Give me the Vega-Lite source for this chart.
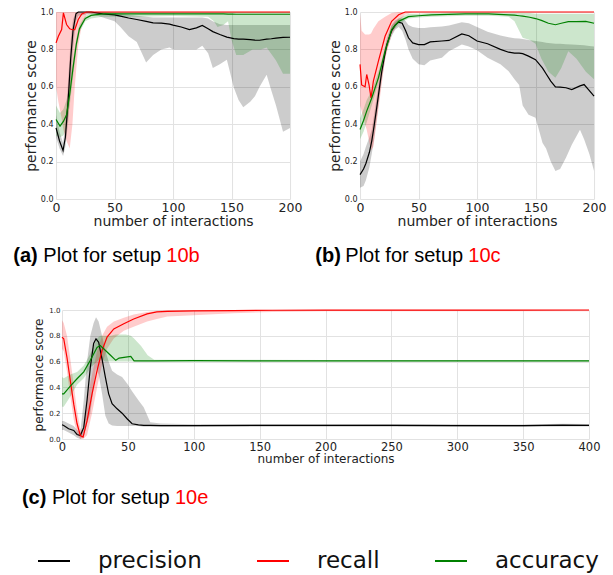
{
"$schema": "https://vega.github.io/schema/vega-lite/v6.json",
"padding": {"left": 13, "top": 8, "right": 4, "bottom": 5},
"config": {
  "view": {"stroke": null},
  "font": "DejaVu Sans",
  "axis": {"domain": false, "ticks": false, "gridColor": "#e2e2e2", "gridWidth": 1, "labelColor": "#222", "titleColor": "#222", "titleFontWeight": "normal", "labelFont": "DejaVu Sans", "titleFont": "DejaVu Sans"},
  "title": {"font": "Liberation Sans", "fontSize": 20, "fontWeight": "normal", "color": "black", "orient": "bottom", "anchor": "start", "frame": "bounds"},
  "legend": {"orient": "none", "legendX": -19, "legendY": 532, "direction": "horizontal", "symbolType": "stroke", "symbolSize": 1024, "symbolStrokeWidth": 2, "labelFontSize": 23, "labelFont": "DejaVu Sans", "labelColor": "#111", "labelOffset": 27, "columnPadding": 51, "labelLimit": 300, "padding": 0}
},
"datasets": {
"d": [
{"p":"a","m":"precision","x":0,"y":0.38,"lo":0.33,"hi":0.45},
{"p":"a","m":"precision","x":3,"y":0.31,"lo":0.27,"hi":0.36},
{"p":"a","m":"precision","x":6,"y":0.26,"lo":0.23,"hi":0.30},
{"p":"a","m":"precision","x":8,"y":0.33,"lo":0.28,"hi":0.40},
{"p":"a","m":"precision","x":10.5,"y":0.54,"lo":0.42,"hi":0.65},
{"p":"a","m":"precision","x":12.5,"y":0.75,"lo":0.62,"hi":0.85},
{"p":"a","m":"precision","x":14.5,"y":0.9,"lo":0.8,"hi":0.96},
{"p":"a","m":"precision","x":17,"y":0.99,"lo":0.95,"hi":1.0},
{"p":"a","m":"precision","x":19,"y":1.0,"lo":0.98,"hi":1.0},
{"p":"a","m":"precision","x":30,"y":1.0,"lo":0.99,"hi":1.0},
{"p":"a","m":"precision","x":40,"y":0.99,"lo":0.97,"hi":1.0},
{"p":"a","m":"precision","x":50,"y":0.985,"lo":0.95,"hi":0.995},
{"p":"a","m":"precision","x":55,"y":0.978,"lo":0.92,"hi":0.99},
{"p":"a","m":"precision","x":62,"y":0.968,"lo":0.87,"hi":0.985},
{"p":"a","m":"precision","x":69,"y":0.96,"lo":0.84,"hi":0.98},
{"p":"a","m":"precision","x":77,"y":0.95,"lo":0.73,"hi":0.975},
{"p":"a","m":"precision","x":83,"y":0.942,"lo":0.77,"hi":0.97},
{"p":"a","m":"precision","x":90,"y":0.94,"lo":0.8,"hi":0.97},
{"p":"a","m":"precision","x":97,"y":0.935,"lo":0.81,"hi":0.97},
{"p":"a","m":"precision","x":100,"y":0.93,"lo":0.80,"hi":0.97},
{"p":"a","m":"precision","x":107,"y":0.92,"lo":0.80,"hi":0.97},
{"p":"a","m":"precision","x":114,"y":0.906,"lo":0.80,"hi":0.97},
{"p":"a","m":"precision","x":120,"y":0.915,"lo":0.80,"hi":0.97},
{"p":"a","m":"precision","x":125,"y":0.928,"lo":0.82,"hi":0.97},
{"p":"a","m":"precision","x":130,"y":0.91,"lo":0.78,"hi":0.965},
{"p":"a","m":"precision","x":134,"y":0.895,"lo":0.70,"hi":0.95},
{"p":"a","m":"precision","x":140,"y":0.88,"lo":0.72,"hi":0.935},
{"p":"a","m":"precision","x":146,"y":0.866,"lo":0.745,"hi":0.93},
{"p":"a","m":"precision","x":152,"y":0.858,"lo":0.595,"hi":0.93},
{"p":"a","m":"precision","x":156,"y":0.855,"lo":0.53,"hi":0.93},
{"p":"a","m":"precision","x":160,"y":0.855,"lo":0.49,"hi":0.93},
{"p":"a","m":"precision","x":166,"y":0.852,"lo":0.52,"hi":0.93},
{"p":"a","m":"precision","x":170,"y":0.85,"lo":0.55,"hi":0.93},
{"p":"a","m":"precision","x":174,"y":0.849,"lo":0.60,"hi":0.93},
{"p":"a","m":"precision","x":180,"y":0.855,"lo":0.665,"hi":0.93},
{"p":"a","m":"precision","x":184,"y":0.857,"lo":0.58,"hi":0.93},
{"p":"a","m":"precision","x":188,"y":0.86,"lo":0.5,"hi":0.93},
{"p":"a","m":"precision","x":194,"y":0.864,"lo":0.36,"hi":0.93},
{"p":"a","m":"precision","x":200,"y":0.865,"lo":0.38,"hi":0.93},
{"p":"a","m":"recall","x":0,"y":0.835,"lo":0.6,"hi":1.0},
{"p":"a","m":"recall","x":2,"y":0.87,"lo":0.52,"hi":1.0},
{"p":"a","m":"recall","x":4.8,"y":0.906,"lo":0.43,"hi":1.0},
{"p":"a","m":"recall","x":6.3,"y":0.995,"lo":0.37,"hi":1.0},
{"p":"a","m":"recall","x":9,"y":0.933,"lo":0.31,"hi":1.0},
{"p":"a","m":"recall","x":11.7,"y":0.91,"lo":0.27,"hi":1.0},
{"p":"a","m":"recall","x":14,"y":0.905,"lo":0.4,"hi":1.0},
{"p":"a","m":"recall","x":16,"y":0.906,"lo":0.6,"hi":1.0},
{"p":"a","m":"recall","x":19,"y":0.96,"lo":0.82,"hi":1.0},
{"p":"a","m":"recall","x":22,"y":0.99,"lo":0.93,"hi":1.0},
{"p":"a","m":"recall","x":26,"y":1.0,"lo":0.99,"hi":1.0},
{"p":"a","m":"recall","x":50,"y":1.0,"lo":0.995,"hi":1.0},
{"p":"a","m":"recall","x":100,"y":1.0,"lo":0.995,"hi":1.0},
{"p":"a","m":"recall","x":150,"y":1.0,"lo":0.995,"hi":1.0},
{"p":"a","m":"recall","x":200,"y":1.0,"lo":0.995,"hi":1.0},
{"p":"a","m":"accuracy","x":0,"y":0.425,"lo":0.34,"hi":0.5},
{"p":"a","m":"accuracy","x":3.4,"y":0.39,"lo":0.33,"hi":0.46},
{"p":"a","m":"accuracy","x":6.3,"y":0.415,"lo":0.34,"hi":0.48},
{"p":"a","m":"accuracy","x":9,"y":0.45,"lo":0.38,"hi":0.53},
{"p":"a","m":"accuracy","x":11.7,"y":0.56,"lo":0.5,"hi":0.62},
{"p":"a","m":"accuracy","x":14.5,"y":0.7,"lo":0.65,"hi":0.75},
{"p":"a","m":"accuracy","x":17.4,"y":0.83,"lo":0.8,"hi":0.86},
{"p":"a","m":"accuracy","x":20,"y":0.91,"lo":0.89,"hi":0.93},
{"p":"a","m":"accuracy","x":25,"y":0.965,"lo":0.95,"hi":0.98},
{"p":"a","m":"accuracy","x":30,"y":0.982,"lo":0.965,"hi":0.995},
{"p":"a","m":"accuracy","x":40,"y":0.99,"lo":0.975,"hi":1.0},
{"p":"a","m":"accuracy","x":70,"y":0.99,"lo":0.975,"hi":1.0},
{"p":"a","m":"accuracy","x":100,"y":0.99,"lo":0.978,"hi":1.0},
{"p":"a","m":"accuracy","x":130,"y":0.99,"lo":0.975,"hi":1.0},
{"p":"a","m":"accuracy","x":135,"y":0.99,"lo":0.95,"hi":1.0},
{"p":"a","m":"accuracy","x":138,"y":0.99,"lo":0.92,"hi":1.0},
{"p":"a","m":"accuracy","x":143,"y":0.99,"lo":0.93,"hi":1.0},
{"p":"a","m":"accuracy","x":147,"y":0.989,"lo":0.95,"hi":1.0},
{"p":"a","m":"accuracy","x":150,"y":0.989,"lo":0.85,"hi":1.0},
{"p":"a","m":"accuracy","x":154,"y":0.988,"lo":0.77,"hi":1.0},
{"p":"a","m":"accuracy","x":160,"y":0.988,"lo":0.77,"hi":1.0},
{"p":"a","m":"accuracy","x":168,"y":0.988,"lo":0.8,"hi":1.0},
{"p":"a","m":"accuracy","x":175,"y":0.988,"lo":0.8,"hi":1.0},
{"p":"a","m":"accuracy","x":180,"y":0.988,"lo":0.81,"hi":1.0},
{"p":"a","m":"accuracy","x":188,"y":0.988,"lo":0.74,"hi":1.0},
{"p":"a","m":"accuracy","x":194,"y":0.988,"lo":0.67,"hi":1.0},
{"p":"a","m":"accuracy","x":200,"y":0.988,"lo":0.67,"hi":1.0},
{"p":"b","m":"precision","x":0,"y":0.13,"lo":0.06,"hi":0.2},
{"p":"b","m":"precision","x":3,"y":0.16,"lo":0.07,"hi":0.24},
{"p":"b","m":"precision","x":5,"y":0.19,"lo":0.1,"hi":0.28},
{"p":"b","m":"precision","x":8,"y":0.25,"lo":0.17,"hi":0.33},
{"p":"b","m":"precision","x":10,"y":0.31,"lo":0.24,"hi":0.37},
{"p":"b","m":"precision","x":12,"y":0.39,"lo":0.32,"hi":0.45},
{"p":"b","m":"precision","x":14.3,"y":0.49,"lo":0.43,"hi":0.55},
{"p":"b","m":"precision","x":16.5,"y":0.59,"lo":0.54,"hi":0.64},
{"p":"b","m":"precision","x":18.6,"y":0.683,"lo":0.64,"hi":0.72},
{"p":"b","m":"precision","x":20.8,"y":0.76,"lo":0.72,"hi":0.8},
{"p":"b","m":"precision","x":22.9,"y":0.826,"lo":0.8,"hi":0.86},
{"p":"b","m":"precision","x":27,"y":0.9,"lo":0.87,"hi":0.93},
{"p":"b","m":"precision","x":30,"y":0.93,"lo":0.905,"hi":0.955},
{"p":"b","m":"precision","x":33,"y":0.946,"lo":0.92,"hi":0.965},
{"p":"b","m":"precision","x":36,"y":0.94,"lo":0.9,"hi":0.965},
{"p":"b","m":"precision","x":39,"y":0.9,"lo":0.85,"hi":0.95},
{"p":"b","m":"precision","x":41.4,"y":0.862,"lo":0.8,"hi":0.93},
{"p":"b","m":"precision","x":45,"y":0.835,"lo":0.75,"hi":0.92},
{"p":"b","m":"precision","x":50,"y":0.826,"lo":0.72,"hi":0.915},
{"p":"b","m":"precision","x":55,"y":0.826,"lo":0.715,"hi":0.915},
{"p":"b","m":"precision","x":60,"y":0.84,"lo":0.74,"hi":0.918},
{"p":"b","m":"precision","x":70,"y":0.845,"lo":0.755,"hi":0.922},
{"p":"b","m":"precision","x":76,"y":0.848,"lo":0.79,"hi":0.928},
{"p":"b","m":"precision","x":87,"y":0.883,"lo":0.826,"hi":0.945},
{"p":"b","m":"precision","x":93,"y":0.873,"lo":0.815,"hi":0.94},
{"p":"b","m":"precision","x":100,"y":0.845,"lo":0.795,"hi":0.92},
{"p":"b","m":"precision","x":109,"y":0.83,"lo":0.755,"hi":0.895},
{"p":"b","m":"precision","x":120,"y":0.8,"lo":0.72,"hi":0.875},
{"p":"b","m":"precision","x":127,"y":0.785,"lo":0.683,"hi":0.865},
{"p":"b","m":"precision","x":132,"y":0.78,"lo":0.64,"hi":0.86},
{"p":"b","m":"precision","x":136,"y":0.78,"lo":0.61,"hi":0.858},
{"p":"b","m":"precision","x":139,"y":0.777,"lo":0.5,"hi":0.855},
{"p":"b","m":"precision","x":144,"y":0.764,"lo":0.45,"hi":0.85},
{"p":"b","m":"precision","x":150,"y":0.745,"lo":0.435,"hi":0.845},
{"p":"b","m":"precision","x":156,"y":0.70,"lo":0.3,"hi":0.84},
{"p":"b","m":"precision","x":159,"y":0.67,"lo":0.27,"hi":0.835},
{"p":"b","m":"precision","x":163,"y":0.63,"lo":0.2,"hi":0.833},
{"p":"b","m":"precision","x":167,"y":0.6,"lo":0.15,"hi":0.83},
{"p":"b","m":"precision","x":171,"y":0.598,"lo":0.16,"hi":0.83},
{"p":"b","m":"precision","x":176,"y":0.595,"lo":0.22,"hi":0.828},
{"p":"b","m":"precision","x":181,"y":0.585,"lo":0.29,"hi":0.826},
{"p":"b","m":"precision","x":188,"y":0.605,"lo":0.37,"hi":0.824},
{"p":"b","m":"precision","x":191.5,"y":0.612,"lo":0.32,"hi":0.822},
{"p":"b","m":"precision","x":196,"y":0.58,"lo":0.24,"hi":0.818},
{"p":"b","m":"precision","x":200,"y":0.55,"lo":0.15,"hi":0.815},
{"p":"b","m":"recall","x":0,"y":0.72,"lo":0.5,"hi":0.99},
{"p":"b","m":"recall","x":1.4,"y":0.61,"lo":0.47,"hi":0.9},
{"p":"b","m":"recall","x":4.3,"y":0.6,"lo":0.4,"hi":0.88},
{"p":"b","m":"recall","x":5.7,"y":0.666,"lo":0.37,"hi":0.88},
{"p":"b","m":"recall","x":7.7,"y":0.61,"lo":0.31,"hi":0.88},
{"p":"b","m":"recall","x":9.4,"y":0.54,"lo":0.26,"hi":0.885},
{"p":"b","m":"recall","x":11.4,"y":0.63,"lo":0.28,"hi":0.91},
{"p":"b","m":"recall","x":15.7,"y":0.737,"lo":0.48,"hi":0.95},
{"p":"b","m":"recall","x":21.4,"y":0.87,"lo":0.75,"hi":0.975},
{"p":"b","m":"recall","x":27,"y":0.95,"lo":0.88,"hi":0.995},
{"p":"b","m":"recall","x":33,"y":0.985,"lo":0.95,"hi":1.0},
{"p":"b","m":"recall","x":38.6,"y":1.0,"lo":0.985,"hi":1.0},
{"p":"b","m":"recall","x":45,"y":1.0,"lo":1.0,"hi":1.0},
{"p":"b","m":"recall","x":200,"y":1.0,"lo":1.0,"hi":1.0},
{"p":"b","m":"accuracy","x":0,"y":0.372,"lo":0.32,"hi":0.43},
{"p":"b","m":"accuracy","x":3,"y":0.42,"lo":0.36,"hi":0.48},
{"p":"b","m":"accuracy","x":5.7,"y":0.47,"lo":0.41,"hi":0.53},
{"p":"b","m":"accuracy","x":10,"y":0.54,"lo":0.5,"hi":0.58},
{"p":"b","m":"accuracy","x":15.7,"y":0.648,"lo":0.62,"hi":0.68},
{"p":"b","m":"accuracy","x":21.4,"y":0.79,"lo":0.77,"hi":0.81},
{"p":"b","m":"accuracy","x":27,"y":0.906,"lo":0.89,"hi":0.925},
{"p":"b","m":"accuracy","x":33,"y":0.95,"lo":0.935,"hi":0.965},
{"p":"b","m":"accuracy","x":41.4,"y":0.975,"lo":0.965,"hi":0.99},
{"p":"b","m":"accuracy","x":50,"y":0.98,"lo":0.97,"hi":0.99},
{"p":"b","m":"accuracy","x":61,"y":0.985,"lo":0.975,"hi":0.995},
{"p":"b","m":"accuracy","x":90,"y":0.99,"lo":0.98,"hi":1.0},
{"p":"b","m":"accuracy","x":110,"y":0.99,"lo":0.98,"hi":1.0},
{"p":"b","m":"accuracy","x":127,"y":0.985,"lo":0.975,"hi":0.995},
{"p":"b","m":"accuracy","x":132,"y":0.983,"lo":0.95,"hi":0.995},
{"p":"b","m":"accuracy","x":136,"y":0.98,"lo":0.9,"hi":0.995},
{"p":"b","m":"accuracy","x":139,"y":0.978,"lo":0.862,"hi":0.995},
{"p":"b","m":"accuracy","x":145,"y":0.972,"lo":0.85,"hi":0.995},
{"p":"b","m":"accuracy","x":150,"y":0.965,"lo":0.83,"hi":0.99},
{"p":"b","m":"accuracy","x":155,"y":0.955,"lo":0.75,"hi":0.99},
{"p":"b","m":"accuracy","x":161,"y":0.94,"lo":0.68,"hi":0.99},
{"p":"b","m":"accuracy","x":167,"y":0.932,"lo":0.648,"hi":0.99},
{"p":"b","m":"accuracy","x":172,"y":0.94,"lo":0.7,"hi":0.99},
{"p":"b","m":"accuracy","x":178,"y":0.948,"lo":0.79,"hi":0.99},
{"p":"b","m":"accuracy","x":185,"y":0.948,"lo":0.75,"hi":0.99},
{"p":"b","m":"accuracy","x":193,"y":0.95,"lo":0.68,"hi":0.99},
{"p":"b","m":"accuracy","x":200,"y":0.94,"lo":0.64,"hi":0.99},
{"p":"c","m":"precision","x":0,"y":0.11,"lo":0.07,"hi":0.14},
{"p":"c","m":"precision","x":1.3,"y":0.105,"lo":0.07,"hi":0.14},
{"p":"c","m":"precision","x":5,"y":0.079,"lo":0.05,"hi":0.12},
{"p":"c","m":"precision","x":8.9,"y":0.066,"lo":0.03,"hi":0.1},
{"p":"c","m":"precision","x":11.4,"y":0.035,"lo":0.01,"hi":0.07},
{"p":"c","m":"precision","x":13.9,"y":0.027,"lo":0.0,"hi":0.05},
{"p":"c","m":"precision","x":16.5,"y":0.09,"lo":0.02,"hi":0.3},
{"p":"c","m":"precision","x":19,"y":0.3,"lo":0.12,"hi":0.6},
{"p":"c","m":"precision","x":21.5,"y":0.557,"lo":0.2,"hi":0.8},
{"p":"c","m":"precision","x":24,"y":0.74,"lo":0.4,"hi":0.9},
{"p":"c","m":"precision","x":25.8,"y":0.777,"lo":0.55,"hi":0.944},
{"p":"c","m":"precision","x":27.8,"y":0.75,"lo":0.5,"hi":0.91},
{"p":"c","m":"precision","x":30.4,"y":0.62,"lo":0.35,"hi":0.8},
{"p":"c","m":"precision","x":32.9,"y":0.48,"lo":0.18,"hi":0.686},
{"p":"c","m":"precision","x":35.4,"y":0.35,"lo":0.12,"hi":0.6},
{"p":"c","m":"precision","x":38,"y":0.273,"lo":0.105,"hi":0.53},
{"p":"c","m":"precision","x":41.8,"y":0.234,"lo":0.1,"hi":0.5},
{"p":"c","m":"precision","x":45.6,"y":0.2,"lo":0.1,"hi":0.48},
{"p":"c","m":"precision","x":49.4,"y":0.157,"lo":0.1,"hi":0.43},
{"p":"c","m":"precision","x":53.2,"y":0.118,"lo":0.1,"hi":0.37},
{"p":"c","m":"precision","x":58,"y":0.11,"lo":0.1,"hi":0.3},
{"p":"c","m":"precision","x":62,"y":0.105,"lo":0.095,"hi":0.246},
{"p":"c","m":"precision","x":67,"y":0.105,"lo":0.095,"hi":0.13},
{"p":"c","m":"precision","x":75,"y":0.104,"lo":0.095,"hi":0.12},
{"p":"c","m":"precision","x":100,"y":0.104,"lo":0.095,"hi":0.115},
{"p":"c","m":"precision","x":150,"y":0.105,"lo":0.095,"hi":0.115},
{"p":"c","m":"precision","x":200,"y":0.105,"lo":0.095,"hi":0.115},
{"p":"c","m":"precision","x":250,"y":0.106,"lo":0.095,"hi":0.117},
{"p":"c","m":"precision","x":300,"y":0.104,"lo":0.094,"hi":0.114},
{"p":"c","m":"precision","x":350,"y":0.103,"lo":0.093,"hi":0.113},
{"p":"c","m":"precision","x":380,"y":0.108,"lo":0.097,"hi":0.118},
{"p":"c","m":"precision","x":400,"y":0.106,"lo":0.096,"hi":0.116},
{"p":"c","m":"recall","x":0,"y":0.79,"lo":0.7,"hi":0.92},
{"p":"c","m":"recall","x":1.3,"y":0.777,"lo":0.68,"hi":0.9},
{"p":"c","m":"recall","x":3.8,"y":0.63,"lo":0.52,"hi":0.8},
{"p":"c","m":"recall","x":6.3,"y":0.453,"lo":0.33,"hi":0.62},
{"p":"c","m":"recall","x":8.9,"y":0.27,"lo":0.15,"hi":0.42},
{"p":"c","m":"recall","x":11.4,"y":0.12,"lo":0.04,"hi":0.22},
{"p":"c","m":"recall","x":13.9,"y":0.027,"lo":0.0,"hi":0.08},
{"p":"c","m":"recall","x":16,"y":0.015,"lo":0.0,"hi":0.06},
{"p":"c","m":"recall","x":19,"y":0.14,"lo":0.03,"hi":0.3},
{"p":"c","m":"recall","x":22.8,"y":0.35,"lo":0.2,"hi":0.5},
{"p":"c","m":"recall","x":26.6,"y":0.53,"lo":0.4,"hi":0.68},
{"p":"c","m":"recall","x":30.4,"y":0.686,"lo":0.58,"hi":0.8},
{"p":"c","m":"recall","x":34.2,"y":0.79,"lo":0.7,"hi":0.87},
{"p":"c","m":"recall","x":39.3,"y":0.853,"lo":0.78,"hi":0.91},
{"p":"c","m":"recall","x":46.9,"y":0.893,"lo":0.84,"hi":0.94},
{"p":"c","m":"recall","x":54.4,"y":0.93,"lo":0.87,"hi":0.965},
{"p":"c","m":"recall","x":64.6,"y":0.97,"lo":0.91,"hi":0.985},
{"p":"c","m":"recall","x":72,"y":0.985,"lo":0.93,"hi":0.995},
{"p":"c","m":"recall","x":80,"y":0.99,"lo":0.95,"hi":1.0},
{"p":"c","m":"recall","x":100,"y":0.993,"lo":0.96,"hi":1.0},
{"p":"c","m":"recall","x":130,"y":0.995,"lo":0.975,"hi":1.0},
{"p":"c","m":"recall","x":160,"y":0.998,"lo":0.985,"hi":1.0},
{"p":"c","m":"recall","x":200,"y":0.999,"lo":0.99,"hi":1.0},
{"p":"c","m":"recall","x":400,"y":1.0,"lo":0.99,"hi":1.0},
{"p":"c","m":"accuracy","x":0,"y":0.35,"lo":0.25,"hi":0.48},
{"p":"c","m":"accuracy","x":1.3,"y":0.35,"lo":0.25,"hi":0.47},
{"p":"c","m":"accuracy","x":6.3,"y":0.41,"lo":0.33,"hi":0.5},
{"p":"c","m":"accuracy","x":11.4,"y":0.467,"lo":0.42,"hi":0.52},
{"p":"c","m":"accuracy","x":16.5,"y":0.52,"lo":0.47,"hi":0.57},
{"p":"c","m":"accuracy","x":21.5,"y":0.61,"lo":0.55,"hi":0.66},
{"p":"c","m":"accuracy","x":26.6,"y":0.71,"lo":0.6,"hi":0.78},
{"p":"c","m":"accuracy","x":29,"y":0.725,"lo":0.62,"hi":0.8},
{"p":"c","m":"accuracy","x":33,"y":0.686,"lo":0.6,"hi":0.8},
{"p":"c","m":"accuracy","x":37,"y":0.647,"lo":0.6,"hi":0.8},
{"p":"c","m":"accuracy","x":40.8,"y":0.61,"lo":0.6,"hi":0.81},
{"p":"c","m":"accuracy","x":43.3,"y":0.627,"lo":0.6,"hi":0.81},
{"p":"c","m":"accuracy","x":48.4,"y":0.635,"lo":0.6,"hi":0.81},
{"p":"c","m":"accuracy","x":52.2,"y":0.64,"lo":0.6,"hi":0.8},
{"p":"c","m":"accuracy","x":54.7,"y":0.605,"lo":0.6,"hi":0.78},
{"p":"c","m":"accuracy","x":60,"y":0.605,"lo":0.598,"hi":0.72},
{"p":"c","m":"accuracy","x":65,"y":0.605,"lo":0.598,"hi":0.65},
{"p":"c","m":"accuracy","x":70,"y":0.605,"lo":0.598,"hi":0.615},
{"p":"c","m":"accuracy","x":100,"y":0.607,"lo":0.598,"hi":0.615},
{"p":"c","m":"accuracy","x":200,"y":0.605,"lo":0.598,"hi":0.612},
{"p":"c","m":"accuracy","x":300,"y":0.606,"lo":0.598,"hi":0.613},
{"p":"c","m":"accuracy","x":400,"y":0.605,"lo":0.598,"hi":0.612}
]
},
"spacing": 40,
"center": true,
"vconcat": [
 {"hconcat": [
  {"title": {"text": "10b", "color": "red", "dx": 153, "offset": -20},
   "vconcat": [{"title": {"text": "(a)", "fontWeight": "bold", "dx": -11, "offset": -20},
     "vconcat": [{
      "title": {"text": "Plot for setup", "dx": 19, "offset": 17},
      "width": 234, "height": 187,
      "data": {"name": "d"},
      "transform": [{"filter": "datum.p == 'a'"}],
      "encoding": {"x": {"field": "x", "type": "quantitative", "scale": {"domain": [0, 200], "nice": false}, "axis": {"values": [0, 50, 100, 150, 200], "title": "number of interactions", "labelFontSize": 12.5, "titleFontSize": 14, "labelPadding": 2, "titlePadding": 1, "labelFlush": false}}},
      "layer": [
       {"mark": {"type": "area", "opacity": 0.2},
        "encoding": {"y": {"field": "lo", "type": "quantitative", "scale": {"domain": [0, 1], "nice": false}, "axis": {"values": [0, 0.2, 0.4, 0.6, 0.8, 1.0], "format": ".1f", "title": "performance score", "labelFontSize": 8, "titleFontSize": 14, "labelPadding": 3, "titlePadding": 2}},
         "y2": {"field": "hi"},
         "fill": {"field": "m", "type": "nominal", "scale": {"domain": ["accuracy", "precision", "recall"], "range": ["#008000", "#000000", "#ff0000"]}, "legend": null}}},
       {"mark": {"type": "line", "strokeWidth": 1.2},
        "encoding": {"y": {"field": "y", "type": "quantitative", "scale": {"domain": [0, 1], "nice": false}, "axis": {"values": [0, 0.2, 0.4, 0.6, 0.8, 1.0], "format": ".1f", "title": "performance score", "labelFontSize": 8, "titleFontSize": 14, "labelPadding": 3, "titlePadding": 2}},
         "stroke": {"field": "m", "type": "nominal", "title": null, "scale": {"domain": ["precision", "recall", "accuracy"], "range": ["#000000", "#ff0000", "#008000"]}}}}
      ]
     }]
   }]
  },
  {"title": {"text": "10c", "color": "red", "dx": 153, "offset": -20},
   "vconcat": [{"title": {"text": "(b)", "fontWeight": "bold", "dx": -13, "offset": -20},
     "vconcat": [{
      "title": {"text": "Plot for setup", "dx": 17, "offset": 17},
      "width": 234, "height": 187,
      "data": {"name": "d"},
      "transform": [{"filter": "datum.p == 'b'"}],
      "encoding": {"x": {"field": "x", "type": "quantitative", "scale": {"domain": [0, 200], "nice": false}, "axis": {"values": [0, 50, 100, 150, 200], "title": "number of interactions", "labelFontSize": 12.5, "titleFontSize": 14, "labelPadding": 2, "titlePadding": 1, "labelFlush": false}}},
      "layer": [
       {"mark": {"type": "area", "opacity": 0.2},
        "encoding": {"y": {"field": "lo", "type": "quantitative", "scale": {"domain": [0, 1], "nice": false}, "axis": {"values": [0, 0.2, 0.4, 0.6, 0.8, 1.0], "format": ".1f", "title": "performance score", "labelFontSize": 8, "titleFontSize": 14, "labelPadding": 3, "titlePadding": 2}},
         "y2": {"field": "hi"},
         "fill": {"field": "m", "type": "nominal", "scale": {"domain": ["accuracy", "precision", "recall"], "range": ["#008000", "#000000", "#ff0000"]}, "legend": null}}},
       {"mark": {"type": "line", "strokeWidth": 1.2},
        "encoding": {"y": {"field": "y", "type": "quantitative", "scale": {"domain": [0, 1], "nice": false}, "axis": {"values": [0, 0.2, 0.4, 0.6, 0.8, 1.0], "format": ".1f", "title": "performance score", "labelFontSize": 8, "titleFontSize": 14, "labelPadding": 3, "titlePadding": 2}},
         "stroke": {"field": "m", "type": "nominal", "title": null, "scale": {"domain": ["precision", "recall", "accuracy"], "range": ["#000000", "#ff0000", "#008000"]}}}}
      ]
     }]
   }]
  }
 ], "spacing": 13},
 {"title": {"text": "10e", "color": "red", "dx": 153, "offset": -20},
   "vconcat": [{"title": {"text": "(c)", "fontWeight": "bold", "dx": -11, "offset": -20},
     "vconcat": [{
      "title": {"text": "Plot for setup", "dx": 19, "offset": 23},
      "width": 527, "height": 129,
      "data": {"name": "d"},
      "transform": [{"filter": "datum.p == 'c'"}],
      "encoding": {"x": {"field": "x", "type": "quantitative", "scale": {"domain": [0, 400], "nice": false}, "axis": {"values": [0, 50, 100, 150, 200, 250, 300, 350, 400], "title": "number of interactions", "labelFontSize": 11.5, "titleFontSize": 12, "labelPadding": 2, "titlePadding": 1, "labelFlush": false}}},
      "layer": [
       {"mark": {"type": "area", "opacity": 0.2},
        "encoding": {"y": {"field": "lo", "type": "quantitative", "scale": {"domain": [0, 1], "nice": false}, "axis": {"values": [0, 0.2, 0.4, 0.6, 0.8, 1.0], "format": ".1f", "title": "performance score", "labelFontSize": 7, "titleFontSize": 12, "labelPadding": 2, "titlePadding": 3}},
         "y2": {"field": "hi"},
         "fill": {"field": "m", "type": "nominal", "scale": {"domain": ["accuracy", "precision", "recall"], "range": ["#008000", "#000000", "#ff0000"]}, "legend": null}}},
       {"mark": {"type": "line", "strokeWidth": 1.2},
        "encoding": {"y": {"field": "y", "type": "quantitative", "scale": {"domain": [0, 1], "nice": false}, "axis": {"values": [0, 0.2, 0.4, 0.6, 0.8, 1.0], "format": ".1f", "title": "performance score", "labelFontSize": 7, "titleFontSize": 12, "labelPadding": 2, "titlePadding": 3}},
         "stroke": {"field": "m", "type": "nominal", "title": null, "scale": {"domain": ["precision", "recall", "accuracy"], "range": ["#000000", "#ff0000", "#008000"]}}}}
      ]
     }]
   }]
 }
]
}
